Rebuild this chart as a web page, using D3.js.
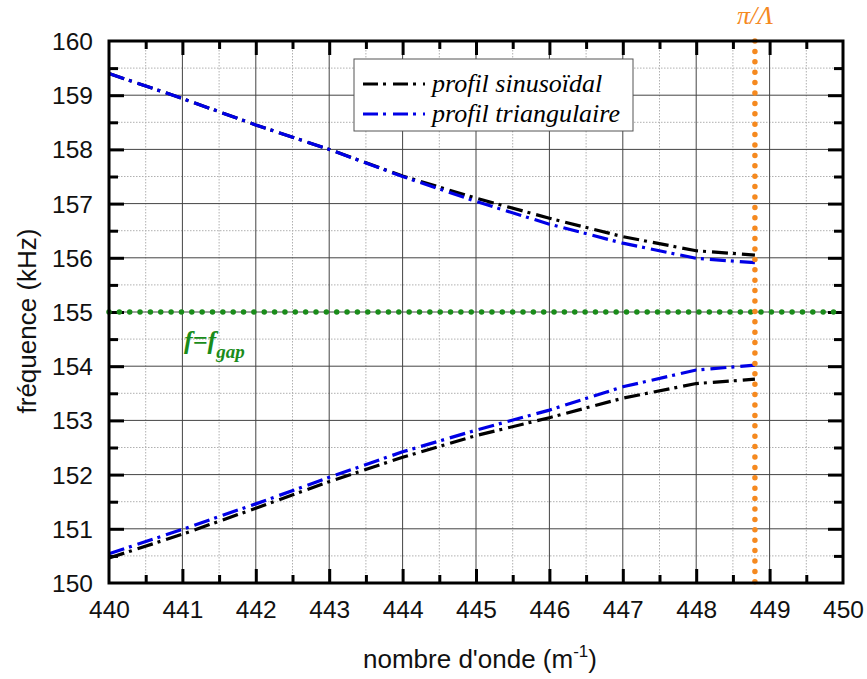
<!DOCTYPE html>
<html><head><meta charset="utf-8">
<script src="https://cdn.jsdelivr.net/npm/d3@7"></script>
<style>
html,body{margin:0;padding:0;background:#fff;}
svg{display:block;}
</style></head>
<body>
<svg id="chart" width="867" height="679"></svg>
<script>
// ---- data ----
const kValues     = [440, 441, 442, 443, 444, 445, 446, 447, 448, 448.8];
const sinusUpper  = [159.40, 158.94, 158.45, 158.00, 157.51, 157.10, 156.73, 156.39, 156.13, 156.05];
const triUpper    = [159.40, 158.94, 158.45, 158.00, 157.50, 157.04, 156.62, 156.27, 155.99, 155.91];
const sinusLower  = [150.46, 150.90, 151.38, 151.87, 152.32, 152.72, 153.05, 153.41, 153.68, 153.76];
const triLower    = [150.54, 150.99, 151.46, 151.95, 152.42, 152.82, 153.19, 153.62, 153.93, 154.02];
const xTicks = [440, 441, 442, 443, 444, 445, 446, 447, 448, 449, 450];
const yTicks = [150, 151, 152, 153, 154, 155, 156, 157, 158, 159, 160];
const fGap = 155;
const kBragg = 448.8;
const legendLabels = ["profil sinusoïdal", "profil triangulaire"];

// ---- layout ----
const svg = d3.select("#chart");
const L = 109, R = 843, T = 41, B = 583;
const x = d3.scaleLinear().domain([440, 450]).range([L, R]);
const y = d3.scaleLinear().domain([150, 160]).range([B, T]);

const minorX = d3.range(440.5, 450, 1);
const minorY = d3.range(150.5, 160, 1);

// grid
const g = svg.append("g");
g.selectAll(".mgx").data(minorX).enter().append("line")
  .attr("x1", d => x(d)).attr("x2", d => x(d)).attr("y1", T).attr("y2", B)
  .attr("stroke", "#b0b0b0").attr("stroke-width", 1).attr("stroke-dasharray", "1.5,1.5");
g.selectAll(".mgy").data(minorY).enter().append("line")
  .attr("y1", d => y(d)).attr("y2", d => y(d)).attr("x1", L).attr("x2", R)
  .attr("stroke", "#b0b0b0").attr("stroke-width", 1).attr("stroke-dasharray", "1.5,1.5");
g.selectAll(".gx").data(xTicks.slice(1, -1)).enter().append("line")
  .attr("x1", d => x(d)).attr("x2", d => x(d)).attr("y1", T).attr("y2", B)
  .attr("stroke", "#444").attr("stroke-width", 1);
g.selectAll(".gy").data(yTicks.slice(1, -1)).enter().append("line")
  .attr("y1", d => y(d)).attr("y2", d => y(d)).attr("x1", L).attr("x2", R)
  .attr("stroke", "#444").attr("stroke-width", 1);

// axes with inward ticks on all sides
function axisSet(axisFn, scale, ticks, size, transform) {
  const a = axisFn(scale).tickValues(ticks).tickSize(size).tickFormat("");
  const grp = svg.append("g").attr("transform", transform).call(a);
  grp.select(".domain").remove();
  grp.selectAll(".tick line").attr("stroke", "#000").attr("stroke-width", 3);
  return grp;
}
axisSet(d3.axisTop, x, xTicks.slice(1, -1), 14, `translate(0,${B})`);
axisSet(d3.axisTop, x, minorX, 8, `translate(0,${B})`);
axisSet(d3.axisBottom, x, xTicks.slice(1, -1), 14, `translate(0,${T})`);
axisSet(d3.axisBottom, x, minorX, 8, `translate(0,${T})`);
axisSet(d3.axisRight, y, yTicks.slice(1, -1), 15, `translate(${L},0)`);
axisSet(d3.axisRight, y, minorY, 9, `translate(${L},0)`);
axisSet(d3.axisLeft, y, yTicks.slice(1, -1), 15, `translate(${R},0)`);
axisSet(d3.axisLeft, y, minorY, 9, `translate(${R},0)`);

// tick labels
const bottomAxis = svg.append("g").attr("transform", `translate(0,${B})`)
  .call(d3.axisBottom(x).tickValues(xTicks).tickSize(0).tickPadding(35).tickFormat(d3.format("d")));
bottomAxis.select(".domain").remove();
bottomAxis.selectAll("text").attr("font-family", "Liberation Sans, Arial, sans-serif")
  .attr("font-size", 24.5).attr("fill", "#111").attr("dy", 0);
const leftAxis = svg.append("g").attr("transform", `translate(${L},0)`)
  .call(d3.axisLeft(y).tickValues(yTicks).tickSize(0).tickPadding(16).tickFormat(d3.format("d")));
leftAxis.select(".domain").remove();
leftAxis.selectAll("text").attr("font-family", "Liberation Sans, Arial, sans-serif")
  .attr("font-size", 24.5).attr("fill", "#111").attr("dy", "0.35em");

// curves
const line = d3.line().x(d => x(d[0])).y(d => y(d[1]));
const series = [
  {vals: sinusUpper, color: "#000"},
  {vals: sinusLower, color: "#000"},
  {vals: triUpper, color: "#0000e6"},
  {vals: triLower, color: "#0000e6"}
];
series.forEach(s => {
  svg.append("path").datum(kValues.map((k, i) => [k, s.vals[i]]))
    .attr("d", line).attr("fill", "none").attr("stroke", s.color)
    .attr("stroke-width", 3.2).attr("stroke-dasharray", "16,5,3,6");
});

// f = f_gap line
svg.append("line").attr("x1", L).attr("x2", R).attr("y1", y(fGap)).attr("y2", y(fGap))
  .attr("stroke", "#1a8c1a").attr("stroke-width", 5.5).attr("stroke-linecap", "round")
  .attr("stroke-dasharray", "0,10.35");
// pi/Lambda line
svg.append("line").attr("x1", x(kBragg)).attr("x2", x(kBragg)).attr("y1", T).attr("y2", B + 2)
  .attr("stroke", "#f5891f").attr("stroke-width", 5.5).attr("stroke-linecap", "round")
  .attr("stroke-dasharray", "0,10.4");

// frame
svg.append("rect").attr("x", L).attr("y", T).attr("width", R - L).attr("height", B - T)
  .attr("fill", "none").attr("stroke", "#000").attr("stroke-width", 3);

// legend
const lg = svg.append("g");
lg.append("rect").attr("x", 354).attr("y", 59).attr("width", 279).attr("height", 72)
  .attr("fill", "#fff").attr("stroke", "#555").attr("stroke-width", 1);
legendLabels.forEach((lab, i) => {
  const yy = 84 + i * 30;
  lg.append("line").attr("x1", 363).attr("x2", 425).attr("y1", yy).attr("y2", yy)
    .attr("stroke", i === 0 ? "#000" : "#0000e6").attr("stroke-width", 3.2)
    .attr("stroke-dasharray", "15,5,3,7");
  lg.append("text").attr("x", 432).attr("y", yy + 8).text(lab)
    .attr("font-family", "Liberation Serif, Times New Roman, serif").attr("font-style", "italic")
    .attr("font-size", 26).attr("fill", "#000");
});

// annotations
svg.append("text").attr("x", x(kBragg)).attr("y", 24).attr("text-anchor", "middle")
  .attr("font-family", "Liberation Serif, Times New Roman, serif").attr("font-style", "italic")
  .attr("font-size", 26).attr("fill", "#f5891f").text("π/Λ");
const fg = svg.append("text").attr("x", 184).attr("y", 349)
  .attr("font-family", "Liberation Serif, Times New Roman, serif").attr("font-style", "italic")
  .attr("font-weight", "bold").attr("font-size", 26).attr("fill", "#1a8c1a");
fg.append("tspan").text("f=f");
fg.append("tspan").attr("dy", 9).attr("font-size", 19).text("gap");

// axis titles
const xt = svg.append("text").attr("x", 480).attr("y", 668).attr("text-anchor", "middle")
  .attr("font-family", "Liberation Sans, Arial, sans-serif").attr("font-size", 26).attr("fill", "#111");
xt.append("tspan").text("nombre d'onde (m");
xt.append("tspan").attr("dy", -11).attr("font-size", 17).text("-1");
xt.append("tspan").attr("dy", 11).text(")");
svg.append("text").attr("transform", "translate(36,321) rotate(-90)").attr("text-anchor", "middle")
  .attr("font-family", "Liberation Sans, Arial, sans-serif").attr("font-size", 26).attr("fill", "#111")
  .text("fréquence (kHz)");
</script>
</body></html>
